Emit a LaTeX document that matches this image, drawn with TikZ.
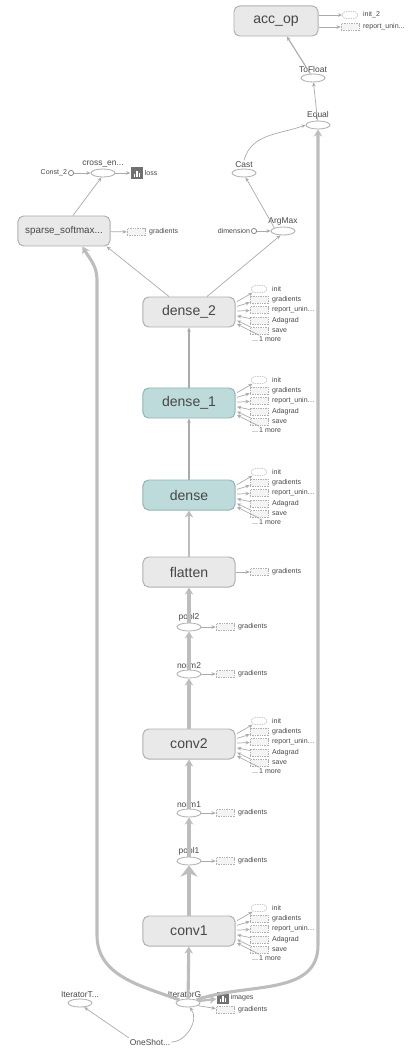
\documentclass[tikz,border=0pt]{standalone}
\usepackage{fontspec}
\setmainfont{Liberation Sans}
\usetikzlibrary{shapes.geometric,arrows.meta,positioning}

\definecolor{opfill}{HTML}{E9E9E9}
\definecolor{opline}{HTML}{B0B0B0}
\definecolor{tealfill}{HTML}{BEDBDB}
\definecolor{tealline}{HTML}{93B4B4}
\definecolor{depgray}{HTML}{ABABAB}
\definecolor{tensgray}{HTML}{BDBDBD}
\definecolor{txtgray}{HTML}{474747}
\definecolor{icongray}{HTML}{707070}

\tikzset{
  opbox/.style={draw=opline, fill=opfill, rounded corners=0.14cm, line width=0.7pt,
    minimum width=2.3cm, minimum height=0.75cm, text=txtgray, font=\fontsize{10}{10}\selectfont},
  fcbox/.style={opbox, draw=tealline, fill=tealfill},
  opell/.style={ellipse, draw=opline, fill=white, line width=0.6pt,
    minimum width=0.6cm, minimum height=0.2cm, inner sep=0pt},
  oplabel/.style={text=txtgray, font=\fontsize{6}{6}\selectfont, inner sep=0.6pt},
  smalltext/.style={text=txtgray, font=\fontsize{5}{5}\selectfont, inner sep=0.6pt},
  sidetext/.style={smalltext, anchor=west},
  sidebox/.style={draw=opline, dash pattern=on 1pt off 0.7pt, fill=opfill!50, line width=0.4pt,
    minimum width=0.45cm, minimum height=0.17cm, inner sep=0pt},
  sideinit/.style={sidebox, fill=white, rounded corners=0.08cm, minimum width=0.38cm},
  constdot/.style={circle, draw=txtgray!70, fill=white, minimum size=0.13cm, inner sep=0pt, line width=0.5pt},
  summary/.style={fill=icongray, minimum size=0.32cm, inner sep=0pt, path picture={
    \fill[white] ([xshift=-2.4pt,yshift=1.6pt]path picture bounding box.south) rectangle +(1pt,2.4pt);
    \fill[white] ([xshift=-0.5pt,yshift=1.6pt]path picture bounding box.south) rectangle +(1pt,4.6pt);
    \fill[white] ([xshift=1.4pt,yshift=1.6pt]path picture bounding box.south) rectangle +(1pt,3.2pt);}},
  dep/.style={draw=depgray, line width=0.5pt, ->},
  tensor/.style={draw=tensgray, line width=2.2pt, -{Stealth[length=5pt,width=6pt]}},
}

\begin{document}
\begin{tikzpicture}[x=0.025cm, y=-0.025cm, >={Stealth[length=3pt,width=2.6pt]}]
  \useasboundingbox (0,0) rectangle (413,1050);

  % accuracy branch
  \node[opbox, minimum width=2.1cm] (acc) at (276,21) {acc\_op};
  \node[sideinit] (acc-1) at (350,15) {};
  \node[sidetext] (acc-1t) at (362,15) {init\_2};
  \node[sidebox] (acc-2) at (350,27) {};
  \node[sidetext] (acc-2t) at (362,27) {report\_unin...};
  \node[opell, label={[oplabel]above:ToFloat}] (tofloat) at (313,78) {};
  \node[opell, label={[oplabel]above:Equal}] (equal) at (318,125) {};
  \node[opell, label={[oplabel,name=castl]above:Cast}] (cast) at (244,173) {};
  \node[opell, label={[oplabel]above:ArgMax}] (argmax) at (283,231) {};
  \node[constdot, label={[smalltext]left:dimension}] (dim) at (254,231) {};

  % loss branch
  \node[opell, label={[oplabel]above:cross\_en...}] (xent) at (103,173) {};
  \node[constdot, label={[smalltext]left:Const\_2}] (const2) at (71,173) {};
  \node[summary, label={[smalltext]right:loss}] (loss) at (137,173) {};
  \node[opbox, font=\fontsize{7}{7}\selectfont] (ss) at (64,231) {sparse\_softmax...};
  \node[sidebox] (ss-g) at (136,232) {};
  \node[sidetext] (ss-gt) at (148,232) {gradients};

  % main chain
  \node[opbox] (d2) at (189,312) {dense\_2};
  \node[fcbox] (d1) at (189,403) {dense\_1};
  \node[fcbox] (d0) at (189,495) {dense};
  \node[opbox] (flat) at (189,572) {flatten};
  \node[sidebox] (flat-g) at (259,572) {};
  \node[sidetext] (flat-gt) at (271,572) {gradients};
  \node[opell, label={[oplabel]above:pool2}] (pool2) at (189,627) {};
  \node[opell, label={[oplabel]above:norm2}] (norm2) at (189,674) {};
  \node[opbox] (c2) at (189,744) {conv2};
  \node[opell, label={[oplabel]above:norm1}] (norm1) at (189,813) {};
  \node[opell, label={[oplabel]above:pool1}] (pool1) at (189,861) {};
  \node[opbox] (c1) at (189,931) {conv1};

  % input
  \node[opell, label={[oplabel]above:IteratorG...}] (itg) at (188,1003) {};
  \node[opell, label={[oplabel]above:IteratorT...}] (itt) at (80,1003) {};
  \node[oplabel] (oneshot) at (150,1042) {OneShot...};
  \node[summary, label={[smalltext]right:images}] (img) at (223,998) {};
  \node[sidebox] (itg-g) at (225,1010) {};
  \node[sidetext] (itg-gt) at (237,1010) {gradients};

  % side annotations of the layers
  \foreach \blk/\cy in {d2/312,d1/403,d0/495,c2/744,c1/931}{
    \foreach \i/\dy/\shp/\txt in {1/-23/sideinit/init,2/-12.5/sidebox/gradients,
        3/-2/sidebox/report\_unin\ldots,4/8.5/sidebox/Adagrad,5/19/sidebox/save}{
      \node[\shp] (\blk-\i) at (259,{\cy+\dy}) {};
      \node[sidetext] (\blk-\i t) at (271,{\cy+\dy}) {\txt};
      \coordinate (\blk-\i s) at (237,{\cy+0.45*\dy});
    }
    \node[sidetext] (\blk-6) at (251,{\cy+27}) {...\,1 more};
    \coordinate (\blk-6s) at (237,{\cy+12});
    \foreach \i in {1,2,3} \draw[dep] (\blk-\i s) -- (\blk-\i);
    \foreach \i in {4,5} \draw[dep] (\blk-\i) -- (\blk-\i s);
    \draw[dep] (\blk-6) -- (\blk-6s);
  }

  \foreach \op/\cy in {pool2/627,norm2/674,norm1/813,pool1/861}{
    \node[sidebox] (\op-g) at (225,\cy) {};
    \node[sidetext] (\op-gt) at (237,\cy) {gradients};
    \draw[dep] (\op) -- (\op-g);
  }

  % edges
  \draw[dep] (equal) -- (tofloat);
  \draw[dep, line width=0.8pt] (tofloat) -- (acc.-55);
  \draw[dep] (acc.east |- acc-1) -- (acc-1);
  \draw[dep] (acc.east |- acc-2) -- (acc-2);
  \draw[dep] (castl.north) to[out=75,in=200] (equal.west);
  \draw[dep] (argmax.160) -- (cast.-70);
  \draw[dep] (dim) -- (argmax);
  \draw[dep] (const2) -- (xent);
  \draw[dep] (xent) -- (loss);
  \draw[dep] (ss.60) -- (xent.-110);
  \draw[dep] (ss) -- (ss-g);
  \draw[dep] ([xshift=-0.5cm]d2.north) -- (ss.-20);
  \draw[dep] ([xshift=0.45cm]d2.north) -- (argmax.-120);

  \draw[dep, line width=0.9pt] (d1) -- (d2);
  \draw[dep, line width=0.9pt] (d0) -- (d1);
  \draw[tensor, line width=1.6pt] (flat) -- (d0);
  \draw[dep] (flat) -- (flat-g);
  \draw[tensor] (pool2) -- (flat);
  \draw[tensor] (norm2) -- (pool2);
  \draw[tensor] (c2) -- (norm2);
  \draw[tensor] (norm1) -- (c2);
  \draw[tensor] (pool1) -- (norm1);
  \draw[tensor, line width=3pt, -{Stealth[length=8pt,width=12pt]}] (c1) -- (pool1);
  \draw[tensor] (itg) -- (c1);

  \coordinate (lbot) at (97,935);
  \coordinate (ltop) at (97,280);
  \coordinate (rbot) at (318,945);
  \draw[tensor] (itg.160) to[out=160,in=-90] (lbot) -- (ltop) to[out=90,in=-60] (ss.-40);
  \draw[tensor] (itg.20) to[out=20,in=-90] (rbot) -- (equal.south);
  \draw[tensor, line width=1.6pt] (itg.10) -- (img);
  \draw[dep] (itg.-15) -- (itg-g);
  \draw[dep] (oneshot.north west) -- (itt.-45);
  \draw[dep] (oneshot.east) to[out=0,in=-50] (itg.-70);
\end{tikzpicture}
\end{document}
